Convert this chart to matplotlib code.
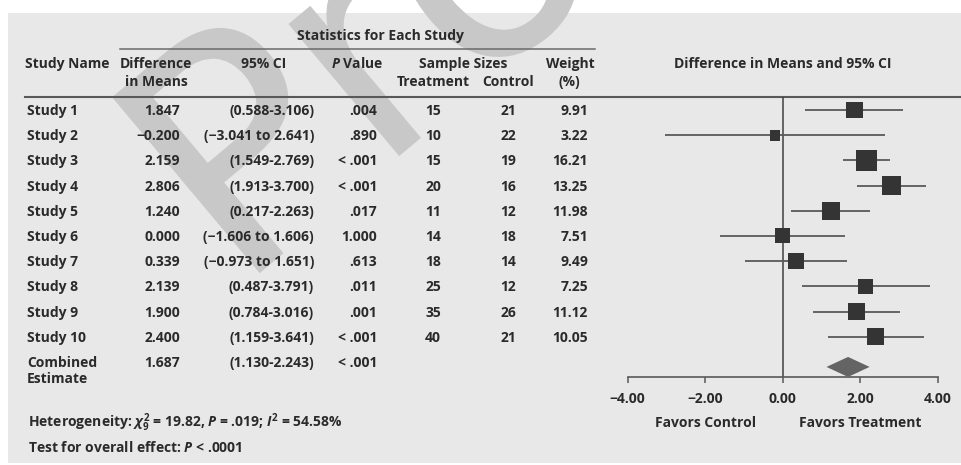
import numpy as np
import matplotlib
matplotlib.use("Agg")
import matplotlib.pyplot as plt
import matplotlib.transforms as mtransforms
from matplotlib.patches import Rectangle, PathPatch
from matplotlib.textpath import TextPath
from matplotlib.font_manager import FontProperties

# ---------------- data ----------------
studies = ['Study 1', 'Study 2', 'Study 3', 'Study 4', 'Study 5',
           'Study 6', 'Study 7', 'Study 8', 'Study 9', 'Study 10']
diff_means = [1.847, -0.200, 2.159, 2.806, 1.240, 0.000, 0.339, 2.139, 1.900, 2.400]
ci_low = [0.588, -3.041, 1.549, 1.913, 0.217, -1.606, -0.973, 0.487, 0.784, 1.159]
ci_high = [3.106, 2.641, 2.769, 3.700, 2.263, 1.606, 1.651, 3.791, 3.016, 3.641]
p_values = ['.004', '.890', '< .001', '< .001', '.017', '1.000', '.613', '.011', '.001', '< .001']
n_treatment = [15, 10, 15, 20, 11, 14, 18, 25, 35, 40]
n_control = [21, 22, 19, 16, 12, 18, 14, 12, 26, 21]
weights = [9.91, 3.22, 16.21, 13.25, 11.98, 7.51, 9.49, 7.25, 11.12, 10.05]
combined_est = 1.687
combined_low = 1.130
combined_high = 2.243
combined_p = '< .001'
x_ticks = [-4, -2, 0, 2, 4]
x_tick_labels = ['\u22124.00', '\u22122.00', '0.00', '2.00', '4.00']

# ---------------- style ----------------
FONT = 'Open Sans'
plt.rcParams['font.family'] = [FONT, 'DejaVu Sans']
plt.rcParams['font.weight'] = 'bold'
plt.rcParams['mathtext.fontset'] = 'custom'
plt.rcParams['mathtext.rm'] = FONT + ':bold'
plt.rcParams['mathtext.it'] = FONT + ':italic:bold'
plt.rcParams['mathtext.bf'] = FONT + ':bold'
TXT = '#2a2a2a'
LINE = '#585858'
FS = 10

W, H = 961, 465
fig = plt.figure(figsize=(W / 100, H / 100), dpi=100, facecolor='white')

# background / layout axes in pixel units
ax0 = fig.add_axes([0, 0, 1, 1], zorder=0)
ax0.set_xlim(0, W)
ax0.set_ylim(H, 0)
ax0.axis('off')
ax0.add_patch(Rectangle((8, 13), W - 8, 450, facecolor='#e8e8e8', edgecolor='none', zorder=0))

# watermark (drawn as a shape, underneath the table text)
wm_path = TextPath((0, 0), 'Proof', size=315, prop=FontProperties(family='DejaVu Sans', weight='normal'))
wm_tr = mtransforms.Affine2D().rotate_deg(40).scale(1, -1).translate(236, 293) + ax0.transData
ax0.add_patch(PathPatch(wm_path, transform=wm_tr, facecolor='#c8c8c8', edgecolor='none',
                        zorder=0.5, clip_on=True))

# forest axes
x_left_px, x_right_px = 627.7, 937.7
y_top_px, y_axis_px = 97, 377
ax = fig.add_axes([x_left_px / W, (H - y_axis_px) / H, (x_right_px - x_left_px) / W,
                   (y_axis_px - y_top_px) / H], zorder=2)
ax.patch.set_alpha(0)
ax.set_xlim(-4, 4)
ax.set_ylim(10.6, -0.516)
for s in ['top', 'left', 'right']:
    ax.spines[s].set_visible(False)
ax.spines['bottom'].set_color(LINE)
ax.spines['bottom'].set_linewidth(1.2)
ax.set_yticks([])
ax.set_xticks(x_ticks)
ax.set_xticklabels(x_tick_labels, fontsize=FS, fontweight='bold', color=TXT)
ax.tick_params(axis='x', direction='out', length=4, width=1.1, color=LINE, pad=6.5)

rows = np.arange(len(studies))
ax.axvline(0, color='#404040', lw=1.1, zorder=1)
ax.hlines(rows, ci_low, ci_high, color='#5a5a5a', lw=1.3, zorder=2)
side_px = 2.7 + 4.46 * np.sqrt(np.array(weights))
ax.scatter(diff_means, rows, marker='s', s=(side_px * 0.72) ** 2, color='#343434',
           linewidths=0, zorder=3)
dy = 10 / 25.2
yc = len(studies) + 0.2
ax.fill([combined_low, combined_est, combined_high, combined_est],
        [yc, yc - dy, yc, yc + dy], color='#646464', lw=0, zorder=3)

# helpers
base_off = mtransforms.ScaledTranslation(0, -0.05, fig.dpi_scale_trans)
row_tr = mtransforms.blended_transform_factory(ax0.transData, ax.transData) + base_off


def ptxt(x, y, s, ha='left', **kw):
    ax0.text(x, y + 5, s, ha=ha, va='baseline', fontsize=FS, color=TXT, fontweight='bold', zorder=3, **kw)


def rtxt(x, r, s, ha='left'):
    ax0.text(x, r, s, ha=ha, va='baseline', fontsize=FS, color=TXT, fontweight='bold',
             transform=row_tr, zorder=3)


def fmt(v):
    s = f'{abs(v):.3f}'
    return ('\u2212' + s) if v < 0 else s


def fmt_ci(lo, hi):
    if lo < 0:
        return f'({fmt(lo)} to {fmt(hi)})'
    return f'({lo:.3f}-{hi:.3f})'


# header
ptxt(380, 35, 'Statistics for Each Study', ha='center')
ax0.plot([120, 595], [49, 49], color='#6a6a6a', lw=1.1, zorder=3)
ptxt(25, 63, 'Study Name')
ptxt(156, 63, 'Difference', ha='center')
ptxt(156, 81, 'in Means', ha='center')
ptxt(264, 63, '95% CI', ha='center')
ptxt(357, 63, r'$P$ Value', ha='center')
ptxt(463, 63, 'Sample Sizes', ha='center')
ptxt(433, 81, 'Treatment', ha='center')
ptxt(508, 81, 'Control', ha='center')
ptxt(570, 63, 'Weight', ha='center')
ptxt(569, 81, '(%)', ha='center')
ptxt(782.5, 63, 'Difference in Means and 95% CI', ha='center')
ax0.plot([25, W], [97, 97], color=LINE, lw=1.5, zorder=3)

# rows
for i, name in enumerate(studies):
    rtxt(27, i, name)
    rtxt(180, i, fmt(diff_means[i]), ha='right')
    rtxt(314, i, fmt_ci(ci_low[i], ci_high[i]), ha='right')
    rtxt(377, i, p_values[i], ha='right')
    rtxt(433, i, str(n_treatment[i]), ha='center')
    rtxt(508, i, str(n_control[i]), ha='center')
    rtxt(588, i, f'{weights[i]:.2f}', ha='right')

nr = len(studies)
rtxt(27, nr, 'Combined')
rtxt(27, nr + 16 / 25.2, 'Estimate')
rtxt(180, nr, fmt(combined_est), ha='right')
rtxt(314, nr, fmt_ci(combined_low, combined_high), ha='right')
rtxt(377, nr, combined_p, ha='right')

# favors labels
fav_tr = mtransforms.blended_transform_factory(ax.transData, ax0.transData)
ax0.text(-2, 427, 'Favors Control', transform=fav_tr, ha='center', va='baseline',
         fontsize=FS, color=TXT, fontweight='bold', zorder=3)
ax0.text(2, 427, 'Favors Treatment', transform=fav_tr, ha='center', va='baseline',
         fontsize=FS, color=TXT, fontweight='bold', zorder=3)

ptxt(28, 422, r'Heterogeneity: $\chi^2_9$ = 19.82, $P$ = .019; $I^2$ = 54.58%')
ptxt(28, 447, r'Test for overall effect: $P$ < .0001')

fig.savefig('out.png', dpi=100, facecolor='white')
